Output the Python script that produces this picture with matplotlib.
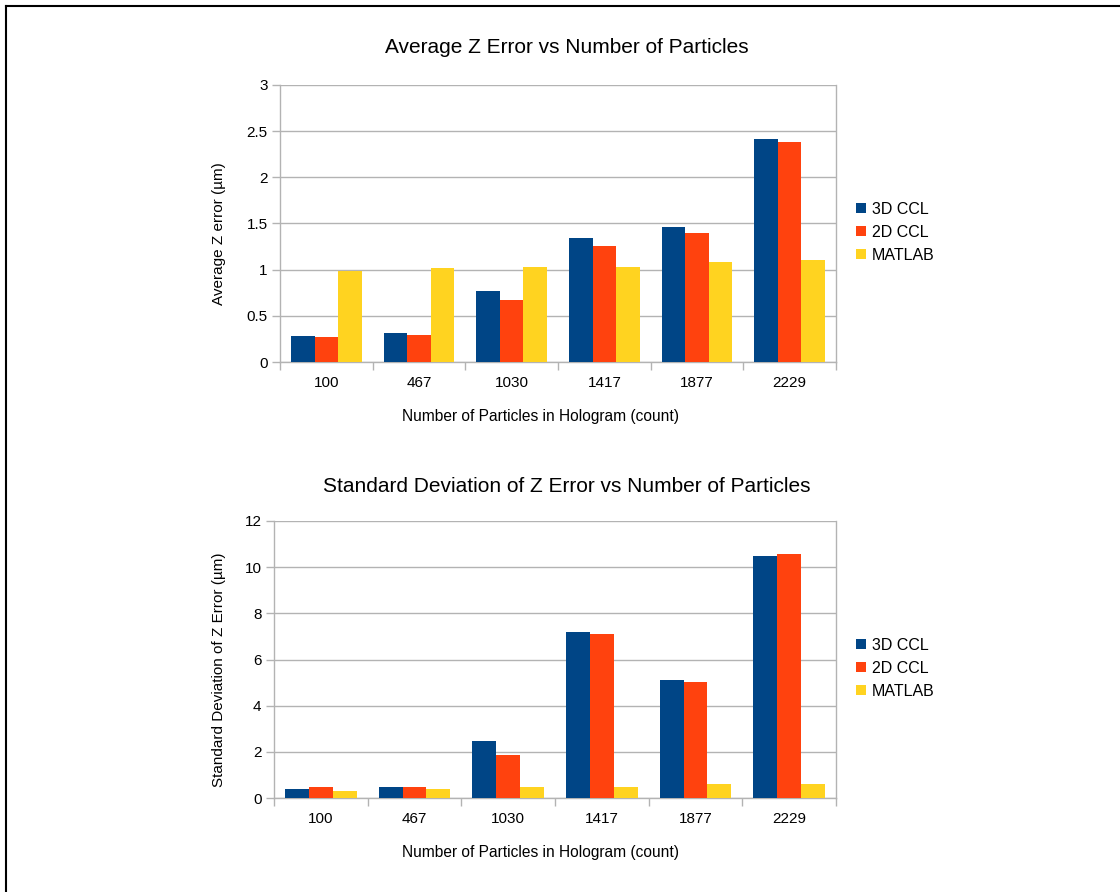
import matplotlib.pyplot as plt
from matplotlib.lines import Line2D
import numpy as np

plt.rcParams['font.family'] = ['Liberation Sans', 'DejaVu Sans']

categories = ['100', '467', '1030', '1417', '1877', '2229']
series = ['3D CCL', '2D CCL', 'MATLAB']
colors = ['#004586', '#ff420e', '#ffd320']

avg_3d = [0.28, 0.31, 0.77, 1.34, 1.46, 2.41]
avg_2d = [0.27, 0.29, 0.67, 1.26, 1.40, 2.38]
avg_matlab = [0.99, 1.02, 1.03, 1.03, 1.08, 1.11]

std_3d = [0.41, 0.49, 2.49, 7.19, 5.10, 10.49]
std_2d = [0.49, 0.49, 1.88, 7.10, 5.01, 10.58]
std_matlab = [0.32, 0.41, 0.49, 0.49, 0.62, 0.62]

grid_col = '#b3b3b3'


def bar_chart(ax, data, ymax, ystep, title, ylabel, left_px, title_pad):
    x = np.arange(len(categories))
    w = 0.255
    for i, vals in enumerate(data):
        ax.bar(x + (i - 1) * w, vals, w, color=colors[i], label=series[i], zorder=3)
    ax.set_xlim(-0.5, len(categories) - 0.5)
    ax.set_ylim(0, ymax)
    ticks = np.arange(0, ymax + ystep / 2, ystep)
    ax.set_yticks(ticks)
    ax.set_yticklabels(['%g' % v for v in ticks])
    ax.yaxis.grid(True, color=grid_col, linewidth=1, zorder=0)
    ax.set_axisbelow(True)
    # category labels centered, tick marks at boundaries
    ax.set_xticks(x)
    ax.set_xticklabels(categories)
    ax.tick_params(axis='x', length=0, labelsize=11, pad=10)
    ax.set_xticks(np.arange(-0.5, len(categories)), minor=True)
    ax.tick_params(axis='x', which='minor', length=6, color=grid_col, width=1)
    ax.tick_params(axis='y', length=6, color=grid_col, width=1, labelsize=11, pad=3)
    for s in ax.spines.values():
        s.set_color(grid_col)
        s.set_linewidth(1)
    ax.spines['top'].set_visible(False)
    width_px = 836 - left_px
    ax.set_title(title, fontsize=15, pad=title_pad, x=(567 - left_px) / width_px)
    ax.set_ylabel(ylabel, fontsize=11)
    ax.yaxis.set_label_coords((226 - left_px) / width_px, 0.462)
    ax.set_xlabel('Number of Particles in Hologram (count)', fontsize=11.2)
    ax.xaxis.set_label_coords((540 - left_px) / width_px, -54 / 277)
    ax.xaxis.label.set_va('center')
    ax.legend(loc='center left', bbox_to_anchor=((856 - left_px) / width_px, 0.469),
              frameon=False, borderpad=0, borderaxespad=0,
              fontsize=11.5, handlelength=0.6, handleheight=0.6, handletextpad=0.4,
              labelspacing=0.5)


fig = plt.figure(figsize=(11.2, 8.92), dpi=100)
ax1 = fig.add_axes([280 / 1120, 1 - 362 / 892, 556 / 1120, 277 / 892])
ax2 = fig.add_axes([274 / 1120, 1 - 798 / 892, 562 / 1120, 277 / 892])

bar_chart(ax1, [avg_3d, avg_2d, avg_matlab], 3, 0.5,
          'Average Z Error vs Number of Particles', 'Average Z error (µm)', 280, 23)
bar_chart(ax2, [std_3d, std_2d, std_matlab], 12, 2,
          'Standard Deviation of Z Error vs Number of Particles',
          'Standard Deviation of Z Error (µm)', 274, 21)

# border of the screenshot (left and top edges)
fig.add_artist(Line2D([6 / 1120, 6 / 1120], [0, 1 - 6 / 892], color='black', linewidth=1.5,
                      transform=fig.transFigure))
fig.add_artist(Line2D([6 / 1120, 1], [1 - 6 / 892, 1 - 6 / 892], color='black', linewidth=1.5,
                      transform=fig.transFigure))

plt.savefig('out.png', dpi=100)
